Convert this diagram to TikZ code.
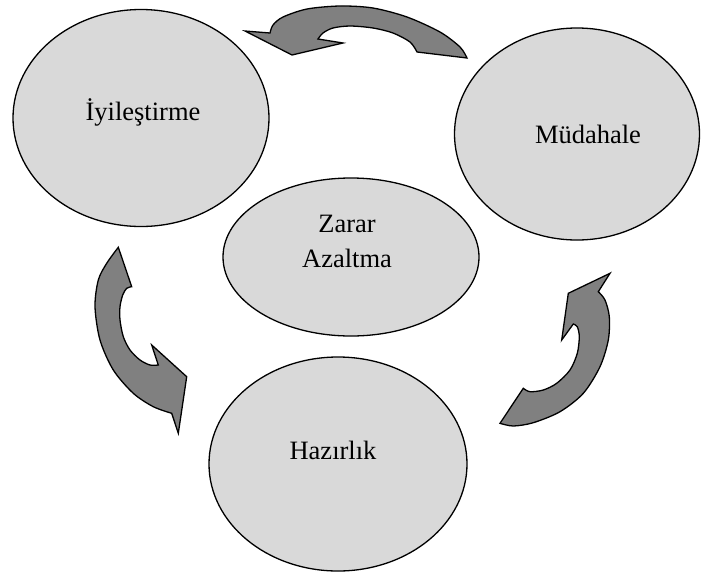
\documentclass[tikz,border=0pt]{standalone}
\usepackage{fontspec}
\setmainfont{Liberation Serif}
\usetikzlibrary{shapes.geometric}
\definecolor{phasefill}{HTML}{D9D9D9}
\definecolor{arrowfill}{HTML}{808080}
\begin{document}
\begin{tikzpicture}[x=1pt,y=-1pt,
  phase/.style={ellipse, draw=black, line width=1.3pt, fill=phasefill, inner sep=0pt},
  caption/.style={font=\fontsize{26.5}{35}\selectfont, align=center, anchor=base, inner sep=0pt},
  cyclearrow/.style={draw=black, line width=1.3pt, fill=arrowfill, line join=miter}]
\useasboundingbox (0,0) rectangle (702,574);

% the four phases
\node[phase, minimum width=256pt, minimum height=217pt] (iy) at (141,118) {};
\node[phase, minimum width=245pt, minimum height=212pt] (mu) at (577,134) {};
\node[phase, minimum width=256pt, minimum height=158pt] (za) at (351,257) {};
\node[phase, minimum width=258pt, minimum height=214pt] (ha) at (338,464) {};

\node[caption] (iyt) at (143,120) {İyileştirme};
\node[caption] (mut) at (588,143) {Müdahale};
\node[caption] (zat) at (347,267) {Zarar\\Azaltma};
\node[caption] (hat) at (333,459) {Hazırlık};

% curved arrows of the cycle
\draw[cyclearrow] (467,58) -- (417,52)
  -- plot[smooth] coordinates {(417,52) (410,42) (393,33) (373,28) (350,26) (333,28) (323,33) (318,39)}
  -- (343,43) -- (292,55) -- (245,31)
  -- plot[smooth] coordinates {(270,33) (273,25) (283,17) (307,9) (340,6) (373,8) (407,17) (440,32) (460,47) (467,58)}
  -- cycle;

\draw[cyclearrow] (118.3,247.3) -- (131.7,286.7)
  -- plot[smooth] coordinates {(131.7,286.7) (126.7,288.3) (122.7,295) (120,306.7) (120,320) (123.3,336.7) (130,350) (140,360) (150,365) (158.3,365)}
  -- (151.7,345) -- (186.7,376.7) -- (178.3,433.3)
  -- plot[smooth] coordinates {(171.7,413.3) (153.3,406.7) (133.3,393.3) (113.3,370) (100,340) (95,306.7) (98.3,280) (106.7,263.3) (118.3,247.3)}
  -- cycle;

\draw[cyclearrow] (500,423.3) -- (523.3,388.3)
  -- plot[smooth] coordinates {(523.3,388.3) (530,391.7) (543.3,390) (556.7,383.3) (570,370) (577.3,353.3) (579.3,336.7) (577.3,326.7) (573.3,324)}
  -- (561.7,340) -- (568.3,293.3) -- (610,273.3)
  -- plot[smooth] coordinates {(598.3,291.7) (605,300) (609.3,316.7) (608.3,340) (600,366.7) (583.3,393.3) (560,411.7) (533.3,422.7) (513.3,426) (500,423.3)}
  -- cycle;
\end{tikzpicture}
\end{document}
